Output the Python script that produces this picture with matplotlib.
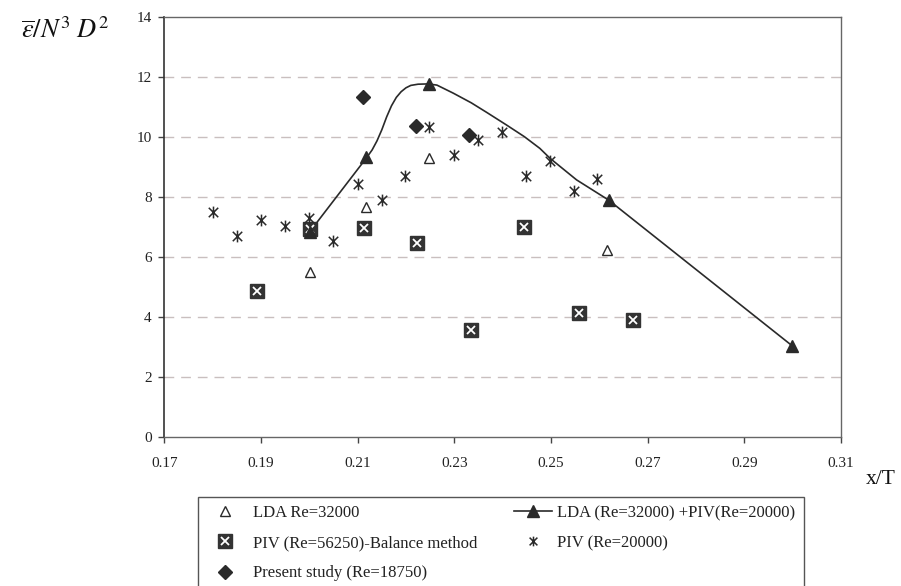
import matplotlib
matplotlib.use('Agg')
import matplotlib.pyplot as plt
from matplotlib.path import Path
from matplotlib.lines import Line2D
from matplotlib.patches import Rectangle
from matplotlib.legend_handler import HandlerTuple

plt.rcParams['font.family'] = ['Liberation Serif', 'DejaVu Serif']
plt.rcParams['mathtext.fontset'] = 'stix'

# ---------------- data ----------------
lda_x = [0.2001, 0.2118, 0.2247, 0.2616]
lda_y = [5.50, 7.69, 9.32, 6.24]

combo_x = [0.2001, 0.2118, 0.2247, 0.2619, 0.2999]
combo_y = [6.85, 9.35, 11.77, 7.91, 3.05]

curve_x = [0.2017, 0.2119, 0.2130, 0.2140, 0.2150, 0.2160, 0.2170, 0.2180, 0.2190,
           0.2200, 0.2210, 0.2225, 0.2246, 0.2264, 0.2298, 0.2335, 0.2367, 0.2408,
           0.2445, 0.2477, 0.2498, 0.2553, 0.2619, 0.2999]
curve_y = [7.19, 9.33, 9.58, 9.88, 10.25, 10.68, 11.05, 11.33, 11.52,
           11.65, 11.73, 11.77, 11.78, 11.74, 11.47, 11.15, 10.83, 10.41,
           10.02, 9.63, 9.30, 8.58, 7.91, 3.05]

piv56_x = [0.1891, 0.2001, 0.2114, 0.2222, 0.2335, 0.2444, 0.2557, 0.2669]
piv56_y = [4.88, 6.95, 6.97, 6.49, 3.58, 7.02, 4.15, 3.91]

piv20_x = [0.1801, 0.1850, 0.1900, 0.1950, 0.2000, 0.2048, 0.2100, 0.2150, 0.2199,
           0.2247, 0.2299, 0.2348, 0.2398, 0.2449, 0.2498, 0.2547, 0.2596]
piv20_y = [7.51, 6.71, 7.23, 7.04, 7.32, 6.53, 8.43, 7.91, 8.71,
           10.34, 9.41, 9.91, 10.19, 8.70, 9.22, 8.20, 8.61]

present_x = [0.2112, 0.2221, 0.2330]
present_y = [11.34, 10.38, 10.07]

x_ticks = [0.17, 0.19, 0.21, 0.23, 0.25, 0.27, 0.29, 0.31]
x_ticklabels = ['0.17', '0.19', '0.21', '0.23', '0.25', '0.27', '0.29', '0.31']
y_ticks = [0, 2, 4, 6, 8, 10, 12, 14]

labels = ['LDA Re=32000', 'PIV (Re=56250)-Balance method', 'Present study (Re=18750)',
          'LDA (Re=32000) +PIV(Re=20000)', 'PIV (Re=20000)']

# ---------------- figure ----------------
W, H = 901, 586
fig = plt.figure(figsize=(W / 100, H / 100), dpi=100)
L, R, T, B = 164.3, 841, 17.3, 437.3
ax = fig.add_axes([L / W, 1 - B / H, (R - L) / W, (B - T) / H])

ax.set_xlim(0.17, 0.31)
ax.set_ylim(0, 14)
ax.set_xticks(x_ticks)
ax.set_xticklabels(x_ticklabels)
ax.set_yticks(y_ticks)

for y in y_ticks[1:-1]:
    ax.axhline(y, color='#c9bfbf', lw=1.0, dashes=(7, 5), zorder=0)

# asterisk marker (X with vertical bar)
ast = Path([(-1, -1), (1, 1), (-1, 1), (1, -1), (0, -1.25), (0, 1.25)],
           [Path.MOVETO, Path.LINETO, Path.MOVETO, Path.LINETO, Path.MOVETO, Path.LINETO])

dark = '#2a2a2a'

h_lda, = ax.plot(lda_x, lda_y, ls='none', marker='^', ms=6.5, mfc='white', mec=dark, mew=1.0, zorder=3)
h_sq, = ax.plot(piv56_x, piv56_y, ls='none', marker='s', ms=9.5, mfc='#333333', mec='#333333', zorder=3)
h_sqx, = ax.plot(piv56_x, piv56_y, ls='none', marker='x', ms=5.5, mec='white', mew=1.3, zorder=3.1)
ax.plot(curve_x, curve_y, color=dark, lw=1.2, zorder=3.5)
ax.plot(combo_x, combo_y, ls='none', marker='^', ms=8, color=dark, zorder=4)
h_ast, = ax.plot(piv20_x, piv20_y, ls='none', marker=ast, ms=8.5, mec=dark, mfc='none', mew=1.1, zorder=4.5)
h_dia, = ax.plot(present_x, present_y, ls='none', marker='D', ms=7, color=dark, zorder=5)

for s in ['top', 'right', 'bottom']:
    ax.spines[s].set_color('#666666')
    ax.spines[s].set_linewidth(1.0)
ax.spines['left'].set_color('#333333')
ax.spines['left'].set_linewidth(1.2)

ax.tick_params(axis='both', direction='out', length=4, width=1, color='#444444',
               labelsize=11, labelcolor='#222222')
ax.tick_params(axis='x', pad=10)
ax.tick_params(axis='y', pad=5)

fig.text(21 / W, 1 - 30 / H, r'$\overline{\varepsilon}/N^{3}\;D^{2}$', fontsize=19,
         ha='left', va='center', color='#111111')
fig.text(866 / W, 1 - 480 / H, 'x/T', fontsize=15.5, ha='left', va='center', color='#111111')

# ---------------- legend ----------------
h_combo = Line2D([], [], color=dark, lw=1.2, marker='^', ms=8)
h_lda_leg = Line2D([], [], ls='none', marker='^', ms=6.5, mfc='white', mec=dark, mew=1.0)
h_ast_leg = Line2D([], [], ls='none', marker=ast, ms=7, mec=dark, mfc='none', mew=1.1)

leg1 = fig.legend([h_lda_leg, (h_sq, h_sqx), h_dia], labels[:3],
                  handler_map={tuple: HandlerTuple(ndivide=1, pad=0)},
                  loc='upper left', bbox_to_anchor=(215 / W, 1 - 505 / H),
                  frameon=False, fontsize=12, handlelength=1.2, handletextpad=1.08,
                  borderpad=0, borderaxespad=0, labelspacing=0.85)
leg2 = fig.legend([h_combo, h_ast_leg], labels[3:],
                  loc='upper left', bbox_to_anchor=(514 / W, 1 - 505 / H),
                  frameon=False, fontsize=12, handlelength=2.3, handletextpad=0.3,
                  borderpad=0, borderaxespad=0, labelspacing=0.85)
for lg in (leg1, leg2):
    for t in lg.get_texts():
        t.set_color('#222222')

fig.add_artist(Rectangle((197.7 / W, 1 - 620 / H), (804 - 197.7) / W, (620 - 497) / H,
                         transform=fig.transFigure, fill=False, edgecolor='#555555', lw=1.0))

fig.savefig('out.png', dpi=100)
